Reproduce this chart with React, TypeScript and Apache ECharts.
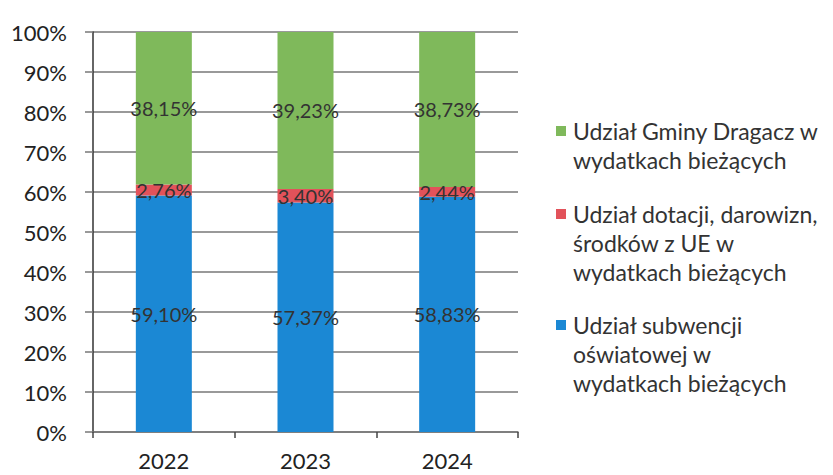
import React, { useEffect, useRef } from "react";
import * as echarts from "echarts";

const categories = ["2022", "2023", "2024"];
const subwencja = [59.1, 57.37, 58.83];
const dotacje = [2.76, 3.4, 2.44];
const gmina = [38.15, 39.23, 38.73];
const yTicks = [0, 10, 20, 30, 40, 50, 60, 70, 80, 90, 100];

const legendItems = [
  { color: "#7fb95b", lines: ["Udział Gminy Dragacz w", "wydatkach bieżących"], top: 131 },
  { color: "#e2525a", lines: ["Udział dotacji, darowizn,", "środków z UE w", "wydatkach bieżących"], top: 214 },
  { color: "#1b88d4", lines: ["Udział subwencji", "oświatowej w", "wydatkach bieżących"], top: 325 },
];

const FONT = "Lato";

export default function App() {
  const ref = useRef<HTMLDivElement>(null);
  useEffect(() => {
    if (!ref.current) return;
    const chart = echarts.init(ref.current, null, { renderer: "svg" });
    const fmt = (p: any) => p.value.toFixed(2).replace(".", ",") + "%";
    const label = {
      show: true,
      position: "inside",
      formatter: fmt,
      color: "#333",
      fontFamily: FONT,
      fontSize: 20,
    };
    const mk = (name: string, data: number[], color: string) => ({
      name,
      type: "bar",
      stack: "total",
      data,
      barWidth: 56,
      itemStyle: { color },
      label,
    });
    const graphic: any[] = [];
    legendItems.forEach((it) => {
      graphic.push({
        type: "rect",
        shape: { x: 556, y: it.top - 5, width: 10, height: 10 },
        style: { fill: it.color },
      });
      it.lines.forEach((ln, i) => {
        graphic.push({
          type: "text",
          x: 573,
          y: it.top + i * 29,
          style: {
            text: ln,
            fill: "#333",
            font: `23px ${FONT}`,
            verticalAlign: "middle",
            textAlign: "left",
          },
        });
      });
    });
    chart.setOption({
      animation: false,
      grid: { left: 93, top: 32, right: 315, bottom: 43, containLabel: false },
      xAxis: {
        type: "category",
        data: categories,
        axisLine: { show: true, lineStyle: { color: "#777", width: 1.5 } },
        axisTick: { show: true, length: 6, lineStyle: { color: "#444", width: 1.5 } },
        axisLabel: { color: "#222", fontFamily: FONT, fontSize: 22, margin: 17 },
      },
      yAxis: {
        type: "value",
        min: yTicks[0],
        max: yTicks[yTicks.length - 1],
        interval: 10,
        axisLine: { show: true, lineStyle: { color: "#333", width: 1.5 } },
        axisTick: { show: true, length: 8, lineStyle: { color: "#777", width: 1.5 } },
        splitLine: { show: true, lineStyle: { color: "#777", width: 1.5 } },
        axisLabel: {
          color: "#222",
          fontFamily: FONT,
          fontSize: 22,
          margin: 26,
          formatter: (v: number) => v + "%",
        },
      },
      series: [
        mk("Udział subwencji oświatowej w wydatkach bieżących", subwencja, "#1b88d4"),
        mk("Udział dotacji, darowizn, środków z UE w wydatkach bieżących", dotacje, "#e2525a"),
        mk("Udział Gminy Dragacz w wydatkach bieżących", gmina, "#7fb95b"),
      ],
      graphic,
    });
    return () => chart.dispose();
  }, []);
  return (
    <div
      ref={ref}
      style={{ position: "fixed", left: 0, top: 0, width: 833, height: 475, background: "#fff" }}
    />
  );
}
